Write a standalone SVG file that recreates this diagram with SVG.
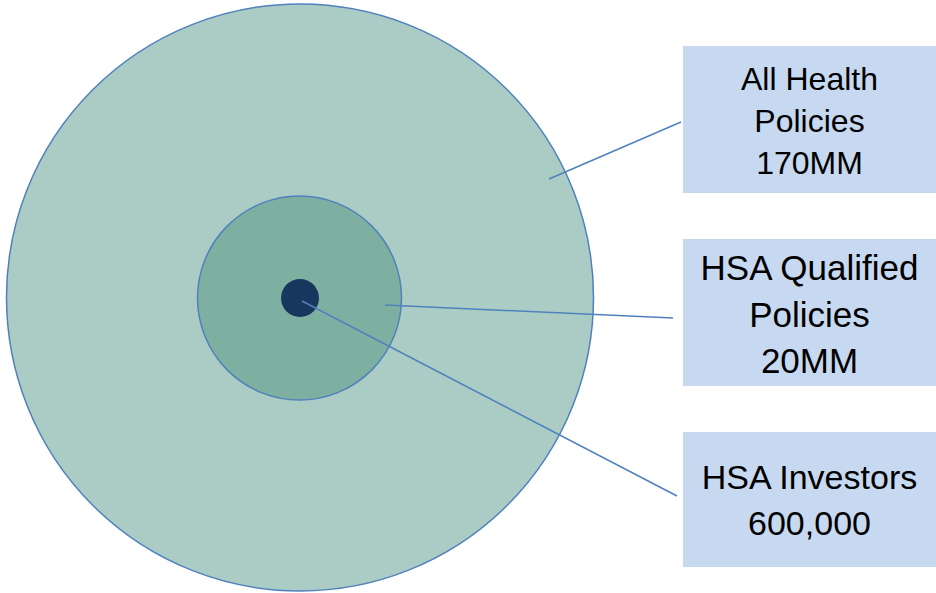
<svg xmlns="http://www.w3.org/2000/svg" width="936" height="593" viewBox="0 0 936 593">
<style>
.ring{stroke:#4F81BD;stroke-width:1.5}
.box{fill:#C6D9F0}
.lbl{font-family:"Liberation Sans",Arial,sans-serif;fill:#000;text-anchor:middle}
.conn line{stroke:#4F81BD;stroke-width:1.5}
</style>
<rect width="936" height="593" fill="#fff"/>
<g id="all-circle"><circle class="ring" cx="300" cy="297.5" r="293.5" fill="#AACCC5"/></g>
<g id="qualified-circle"><circle class="ring" cx="299.5" cy="298" r="102" fill="#7EB0A2"/></g>
<g id="investors-circle"><circle cx="300" cy="298" r="19" fill="#17375E"/></g>
<g id="box-all"><rect class="box" x="683" y="46" width="253" height="147"/>
<text class="lbl" font-size="32"><tspan x="809.5" y="90">All Health</tspan><tspan x="809.5" y="132">Policies</tspan><tspan x="809.5" y="174">170MM</tspan></text></g>
<g id="box-qualified"><rect class="box" x="683" y="239" width="253" height="147"/>
<text class="lbl" font-size="35"><tspan x="809.5" y="280">HSA Qualified</tspan><tspan x="809.5" y="326.5">Policies</tspan><tspan x="809.5" y="373">20MM</tspan></text></g>
<g id="box-investors"><rect class="box" x="683" y="432" width="253" height="135"/>
<text class="lbl" font-size="34"><tspan x="809.5" y="489">HSA Investors</tspan><tspan x="809.5" y="535">600,000</tspan></text></g>
<g class="conn" id="connectors">
<line x1="549" y1="179" x2="681" y2="122"/>
<line x1="385" y1="305" x2="673" y2="318"/>
<line x1="302" y1="301" x2="677" y2="496"/>
</g>
</svg>
